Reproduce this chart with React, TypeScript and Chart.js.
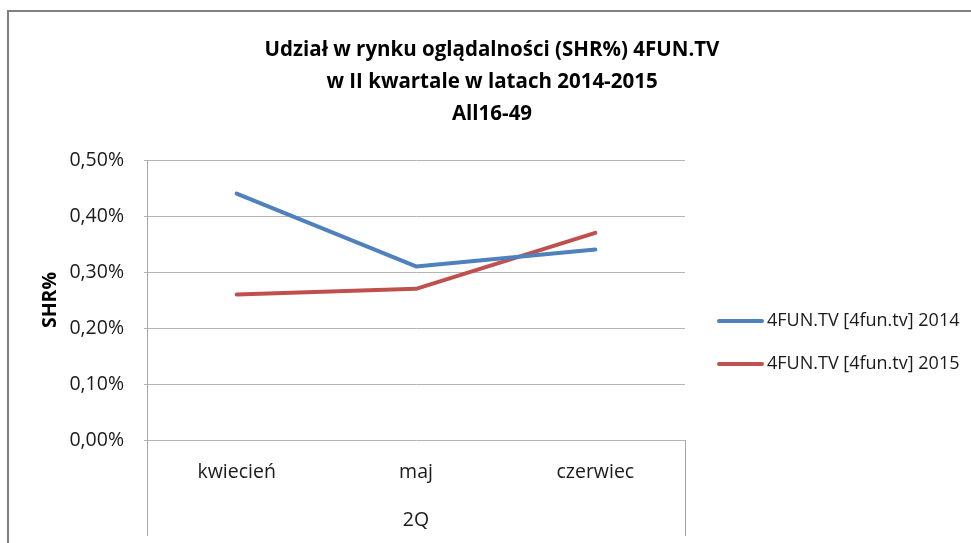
import React, { useEffect, useRef } from "react";
import { Chart, registerables } from "chart.js";

Chart.register(...registerables);

const categories = ["kwiecień", "maj", "czerwiec"];
const groupLabel = "2Q";
const series2014 = [0.44, 0.31, 0.34];
const series2015 = [0.26, 0.27, 0.37];
const seriesNames = ["4FUN.TV [4fun.tv] 2014", "4FUN.TV [4fun.tv] 2015"];
const titleLines = [
  "Udział w rynku oglądalności (SHR%) 4FUN.TV",
  "w II kwartale w latach 2014-2015",
  "All16-49",
];
const yTitle = "SHR%";

const FONT = '"Open Sans", sans-serif';
const W = 971;
const H = 543;

const extrasPlugin = {
  id: "extras",
  afterDraw(chart: any) {
    const { ctx, chartArea } = chart;
    ctx.save();
    // multi-level category separators
    ctx.strokeStyle = "#a6a6a6";
    ctx.lineWidth = 1;
    ctx.beginPath();
    ctx.moveTo(Math.round(chartArea.left) + 0.5, chartArea.bottom);
    ctx.lineTo(Math.round(chartArea.left) + 0.5, 536);
    ctx.moveTo(Math.round(chartArea.right) + 0.5, chartArea.bottom);
    ctx.lineTo(Math.round(chartArea.right) + 0.5, 536);
    ctx.stroke();

    // title
    ctx.fillStyle = "#000";
    ctx.textAlign = "center";
    ctx.textBaseline = "middle";
    ctx.font = `bold 20.5px ${FONT}`;
    titleLines.forEach((t, i) => ctx.fillText(t, 492, 50 + i * 32));

    // legend
    ctx.font = `18px ${FONT}`;
    ctx.textAlign = "left";
    chart.data.datasets.forEach((ds: any, i: number) => {
      const y = 321 + i * 43;
      ctx.strokeStyle = ds.borderColor;
      ctx.lineWidth = 4;
      ctx.lineCap = "round";
      ctx.beginPath();
      ctx.moveTo(719, y);
      ctx.lineTo(762, y);
      ctx.stroke();
      ctx.fillStyle = "#1a1a1a";
      ctx.fillText(ds.label, 767, y);
    });
    ctx.restore();
  },
};

export default function App() {
  const ref = useRef<HTMLCanvasElement | null>(null);

  useEffect(() => {
    if (!ref.current) return;
    const chart = new Chart(ref.current, {
      type: "line",
      data: {
        labels: categories,
        datasets: [
          {
            label: seriesNames[0],
            data: series2014,
            borderColor: "#4f81bd",
            backgroundColor: "#4f81bd",
            borderWidth: 4,
            pointRadius: 0,
            tension: 0,
            borderCapStyle: "round",
            borderJoinStyle: "round",
          },
          {
            label: seriesNames[1],
            data: series2015,
            borderColor: "#c0504d",
            backgroundColor: "#c0504d",
            borderWidth: 4,
            pointRadius: 0,
            tension: 0,
            borderCapStyle: "round",
            borderJoinStyle: "round",
          },
        ],
      },
      options: {
        animation: false,
        responsive: false,
        maintainAspectRatio: false,
        layout: { padding: { top: 160, right: 286, left: 0, bottom: 0 } },
        plugins: {
          legend: { display: false },
          title: { display: false },
          tooltip: { enabled: false },
        },
        scales: {
          x: {
            type: "category",
            offset: true,
            afterFit: (s: any) => {
              s.height = 103;
            },
            grid: { display: false, drawTicks: false },
            border: { display: false },
            ticks: {
              padding: 21,
              color: "#1a1a1a",
              font: { family: FONT, size: 19.5 },
              maxRotation: 0,
            },
            title: {
              display: true,
              text: groupLabel,
              color: "#1a1a1a",
              font: { family: FONT, size: 19.5 },
              padding: { top: 0, bottom: 11 },
            },
          },
          y: {
            min: 0,
            max: 0.5,
            afterFit: (s: any) => {
              s.width = 147;
            },
            ticks: {
              stepSize: 0.1,
              padding: 20,
              color: "#1a1a1a",
              font: { family: FONT, size: 19.5 },
              callback: (v: any) => Number(v).toFixed(2).replace(".", ",") + "%",
            },
            grid: { color: "#b4b4b4", tickLength: 3, lineWidth: 1 },
            border: { display: true, color: "#a6a6a6" },
            title: {
              display: true,
              text: yTitle,
              color: "#000",
              font: { family: FONT, size: 19.5, weight: "bold" },
              padding: { top: 39, bottom: 0 },
            },
          },
        },
      },
      plugins: [extrasPlugin],
    });
    return () => chart.destroy();
  }, []);

  return (
    <div style={{ position: "fixed", left: 0, top: 0, width: W, height: H, background: "#fff", overflow: "hidden" }}>
      <div
        style={{
          position: "absolute",
          left: 7,
          top: 10,
          width: W + 20,
          height: H + 20,
          border: "2px solid #808080",
          boxSizing: "border-box",
        }}
      />
      <canvas ref={ref} width={W} height={H} style={{ position: "absolute", left: 0, top: 0, width: W, height: H }} />
    </div>
  );
}
